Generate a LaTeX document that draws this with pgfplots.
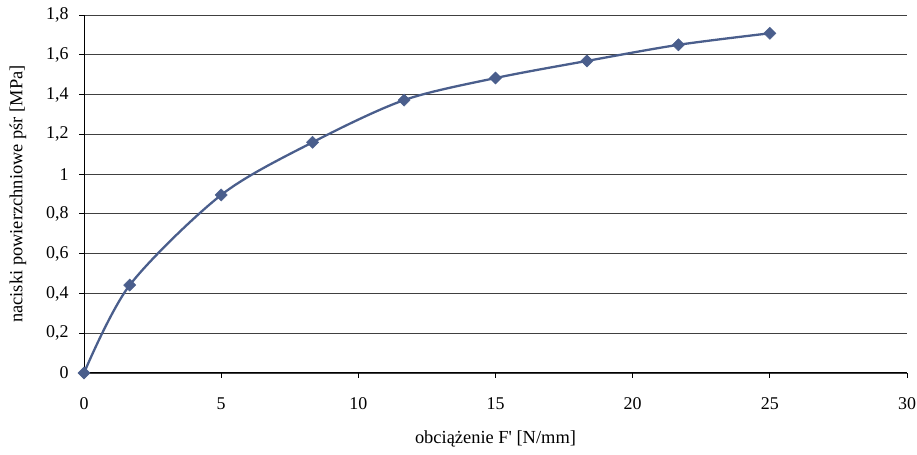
\documentclass[border=0pt]{standalone}
\usepackage{pgfplots}
\pgfplotsset{compat=1.18}
\usepackage{fontspec}
\setmainfont{Liberation Serif}
\newfontfamily\plainfont{Liberation Serif}
\definecolor{ser}{RGB}{74,94,140}
\begin{document}
\begin{tikzpicture}[x=1bp,y=1bp]
\path[use as bounding box] (0,0) rectangle (917,455);
\begin{axis}[
  at={(84bp,82bp)}, anchor=south west,
  scale only axis, width=823bp, height=358bp,
  xmin=0, xmax=30, ymin=0, ymax=1.8,
  axis x line*=bottom, axis y line*=left,
  axis line style={black, line width=1pt, -},
  xtick={0,5,...,30}, ytick={0,0.2,...,1.8},
  tick align=outside, major tick length=5bp,
  tick style={black, line width=0.8pt},
  ymajorgrids, major grid style={black!75, line width=0.9pt},
  /pgf/number format/.cd, use comma, fixed, precision=1, assume math mode=true,
  /pgfplots/.cd,
  tick label style={font=\fontsize{18}{20}\selectfont},
  yticklabel style={xshift=-7bp},
  xticklabel style={yshift=-16bp},
  label style={font=\fontsize{18.5}{21}\selectfont},
  xlabel={obciążenie F{\plainfont '} [N/mm]},
  ylabel={naciski powierzchniowe pśr [MPa]},
  xlabel style={at={(axis description cs:0.5,0)}, anchor=north, yshift=-54bp},
  ylabel style={at={(axis description cs:-0.0802,0.5)}, anchor=center},
  clip=false,
]
\addplot[color=ser, line width=2.3pt, smooth, tension=0.5, mark=square*, mark size=4.3pt, mark options={fill=ser, draw=ser, rotate=45, line width=0.5pt}]
  coordinates {
  (0,0) (1.667,0.442) (5,0.895) (8.333,1.16) (11.667,1.372) (15,1.483) (18.333,1.569) (21.667,1.65) (25,1.708)
  };
\end{axis}
\end{tikzpicture}
\end{document}
